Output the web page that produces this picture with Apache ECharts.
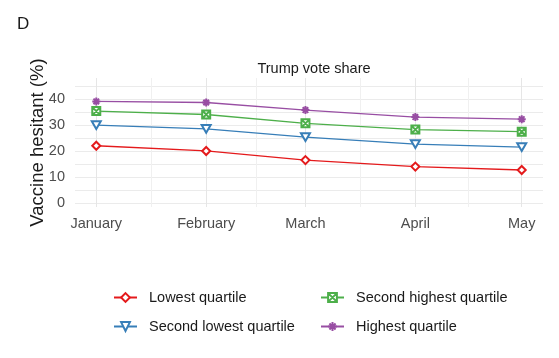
<!DOCTYPE html>
<html>
<head>
<meta charset="utf-8">
<script src="https://cdn.jsdelivr.net/npm/echarts@6/dist/echarts.min.js"></script>
<style>html,body{margin:0;padding:0;background:#fff}#c{width:559px;height:358px}</style>
</head>
<body>
<div id="c"></div>
<script>
// Month positions (day of year, mid-month) and labels
var months = ['January', 'February', 'March', 'April', 'May'];
var monthDays = [14, 45, 73, 104, 134];
var yTicks = [0, 10, 20, 30, 40];
var yGrid = [0, 5, 10, 15, 20, 25, 30, 35, 40, 45];

var seriesNames = ['Lowest quartile', 'Second lowest quartile', 'Second highest quartile', 'Highest quartile'];
var lowest = [22.0, 20.0, 16.5, 14.0, 12.7];
var secondLowest = [29.9, 28.5, 25.3, 22.6, 21.5];
var secondHighest = [35.3, 34.0, 30.6, 28.2, 27.4];
var highest = [39.0, 38.6, 35.7, 33.0, 32.2];

var colors = ['#E41A1C', '#377EB8', '#4DAF4A', '#984EA3'];
var symbols = [
  'emptypath://M5,0L10,5L5,10L0,5Z',
  'emptypath://M0,0L10,0L5,8.66Z',
  'emptypath://M0,0H10V10H0ZM0,0L10,10M10,0L0,10',
  'emptypath://M5,0V10M0,5H10M1.5,1.5L8.5,8.5M8.5,1.5L1.5,8.5'
];
var values = [lowest, secondLowest, secondHighest, highest];

var midDays = [];
for (var i = 0; i < monthDays.length - 1; i++) midDays.push((monthDays[i] + monthDays[i + 1]) / 2);

var font = 'Liberation Sans, Arial, sans-serif';

var series = values.map(function (vals, k) {
  return {
    name: seriesNames[k],
    type: 'line',
    data: vals.map(function (v, j) { return [monthDays[j], v]; }),
    symbol: symbols[k],
    symbolSize: k === 1 ? 9 : 8,
    symbolKeepAspect: true,
    lineStyle: { color: colors[k], width: 1.3 },
    itemStyle: { color: colors[k], borderColor: colors[k], borderWidth: 1.1 },
    z: 3
  };
});

var legendCommon = {
  orient: 'vertical', top: 285,
  itemWidth: 23, itemHeight: 11, itemGap: 14,
  textStyle: { fontSize: 14.5, color: '#1a1a1a', padding: [0, 0, 0, 7], fontFamily: font }
};

var chart = echarts.init(document.getElementById('c'), null, { renderer: 'canvas' });
chart.setOption({
  animation: false,
  color: colors,
  textStyle: { fontFamily: font },
  title: [
    { text: 'D', left: 12, top: 11, textStyle: { fontSize: 17, fontWeight: 'normal', color: '#1a1a1a', fontFamily: font } },
    { text: 'Trump vote share', left: 309, textAlign: 'center', top: 56, textStyle: { fontSize: 14.5, fontWeight: 'normal', color: '#1a1a1a', fontFamily: font } }
  ],
  grid: { left: 75, right: 16, top: 78, bottom: 151, containLabel: false },
  xAxis: [
    {
      type: 'value', min: 8, max: 140,
      axisLine: { show: false },
      axisTick: { show: false, customValues: monthDays },
      axisLabel: {
        customValues: monthDays, color: '#4d4d4d', fontSize: 14.5, margin: 9, fontFamily: font,
        formatter: function (v) { var i = monthDays.indexOf(v); return i >= 0 ? months[i] : ''; }
      },
      splitLine: { show: true, lineStyle: { color: '#e6e6e6', width: 1 } }
    },
    {
      type: 'value', min: 8, max: 140, position: 'bottom',
      axisLine: { show: false },
      axisTick: { show: false, customValues: midDays },
      axisLabel: { show: false, customValues: midDays },
      splitLine: { show: true, lineStyle: { color: '#f0f0f0', width: 1 } }
    }
  ],
  yAxis: {
    type: 'value', min: -1.5, max: 48,
    name: 'Vaccine hesitant (%)', nameLocation: 'middle', nameGap: 28, nameMoveOverlap: false,
    nameTextStyle: { fontSize: 18.5, color: '#1a1a1a', fontFamily: font },
    axisLine: { show: false },
    axisTick: { show: false, customValues: yGrid },
    axisLabel: {
      customValues: yTicks, color: '#4d4d4d', fontSize: 14.5, margin: 10, fontFamily: font
    },
    splitLine: { show: true, lineStyle: { color: '#ebebeb', width: 1 } }
  },
  legend: [
    Object.assign({ data: [seriesNames[0], seriesNames[1]], left: 108 }, legendCommon),
    Object.assign({ data: [seriesNames[2], seriesNames[3]], left: 315 }, legendCommon)
  ],
  series: series
});
</script>
</body>
</html>
